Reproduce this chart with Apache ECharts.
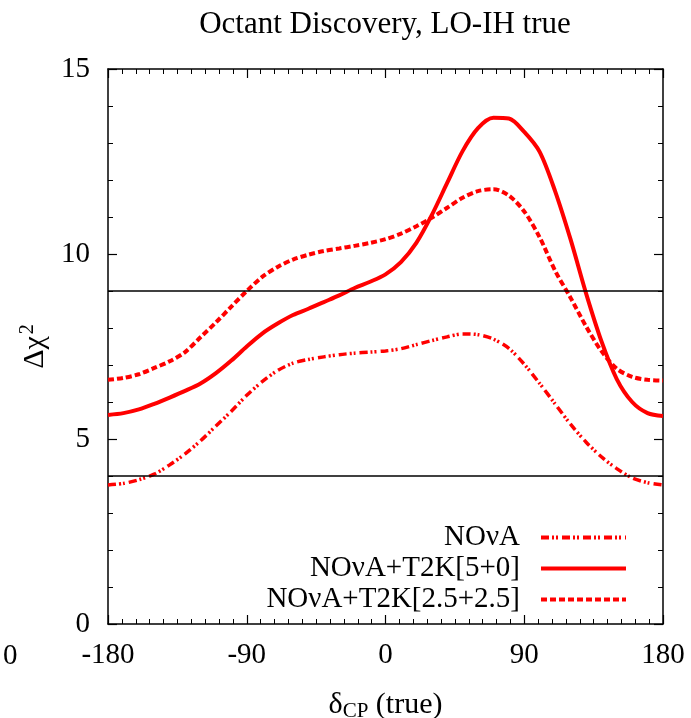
<!DOCTYPE html>
<html>
<head>
<meta charset="utf-8">
<script src="https://cdn.jsdelivr.net/npm/echarts@6/dist/echarts.min.js"></script>
<style>
  html, body { margin: 0; padding: 0; background: #fff; }
  #chart { width: 691px; height: 718px; }
</style>
</head>
<body>
<div id="chart"></div>
<script>
// delta_CP (true) sample points, degrees
const deltaCP = [-180, -170, -160, -150, -140, -130, -120, -110, -100, -90, -80, -70, -60, -50, -40, -30, -20, -10,
  0, 10, 20, 30, 40, 50, 60, 70, 80, 90, 100, 110, 120, 130, 140, 150, 160, 170, 180];

// Δχ² values
const nova = [3.76, 3.80, 3.90, 4.05, 4.30, 4.60, 4.95, 5.35, 5.75, 6.18, 6.55, 6.85, 7.05, 7.15, 7.22, 7.28, 7.32, 7.35,
  7.38, 7.44, 7.55, 7.66, 7.76, 7.84, 7.82, 7.70, 7.45, 7.02, 6.50, 5.95, 5.40, 4.92, 4.52, 4.20, 3.95, 3.82, 3.76];
const novaT2k50 = [5.65, 5.70, 5.80, 5.95, 6.12, 6.30, 6.50, 6.78, 7.12, 7.50, 7.85, 8.12, 8.35, 8.52, 8.70, 8.88, 9.08, 9.25,
  9.45, 9.78, 10.30, 11.05, 11.92, 12.78, 13.40, 13.68, 13.66, 13.30, 12.76, 11.70, 10.40, 8.95, 7.65, 6.62, 6.00, 5.70, 5.62];
const novaT2k2525 = [6.60, 6.65, 6.75, 6.92, 7.10, 7.35, 7.75, 8.15, 8.58, 9.00, 9.38, 9.65, 9.85, 9.98, 10.08, 10.15, 10.22, 10.30,
  10.40, 10.55, 10.75, 10.98, 11.25, 11.52, 11.70, 11.75, 11.58, 11.15, 10.45, 9.55, 8.82, 8.05, 7.38, 6.90, 6.68, 6.60, 6.58];

// horizontal reference levels
const levels = [9, 4];

const seriesNames = ['NOνA', 'NOνA+T2K[5+0]', 'NOνA+T2K[2.5+2.5]'];
const xTicks = [-180, 180, 90];   // min, max, interval
const yTicks = [0, 15, 5];

const serif = 'Liberation Serif';
const red = '#ff0000';

const pairs = (ys) => deltaCP.map((x, i) => [x, ys[i]]);

const chart = echarts.init(document.getElementById('chart'));

const tickStyle = { show: true, inside: true, length: 9, lineStyle: { color: '#000', width: 1.2 } };
const minorStyle = { show: true, length: 5, lineStyle: { color: '#000', width: 1 } };
const frameLine = { show: true, onZero: false, lineStyle: { color: '#000', width: 1.5 } };

const option = {
  animation: false,
  backgroundColor: '#fff',
  title: {
    text: 'Octant Discovery, LO-IH true',
    left: 380,
    textAlign: 'center',
    top: 4,
    textStyle: { fontFamily: serif, fontSize: 31, fontWeight: 'normal', color: '#000' }
  },
  grid: { left: 108, right: 28, top: 69, bottom: 94, outerBoundsMode: 'none' },
  legend: {
    orient: 'vertical',
    align: 'right',
    right: 63,
    bottom: 104,
    padding: 0,
    itemWidth: 85,
    itemHeight: 14,
    itemGap: 2,
    itemStyle: { opacity: 0 },
    lineStyle: { width: 4 },
    textStyle: { fontFamily: serif, fontSize: 29, color: '#000', padding: [0, 16, 0, 0] },
    data: seriesNames
  },
  xAxis: [
    {
      type: 'value',
      min: xTicks[0], max: xTicks[1], interval: xTicks[2],
      axisLine: frameLine,
      axisTick: tickStyle,
      minorTick: Object.assign({ splitNumber: 10 }, minorStyle),
      splitLine: { show: false },
      axisLabel: { margin: 17, fontFamily: serif, fontSize: 29, color: '#000' },
      name: '{d|δ}{s|CP}{d| (true)}',
      nameLocation: 'middle',
      nameGap: 65,
      nameTextStyle: {
        rich: {
          d: { fontFamily: serif, fontSize: 30, color: '#000' },
          s: { fontFamily: serif, fontSize: 21, color: '#000', verticalAlign: 'bottom', padding: [12, 0, 0, 0] }
        }
      }
    },
    {
      type: 'value', position: 'top',
      min: xTicks[0], max: xTicks[1], interval: xTicks[2],
      axisLine: frameLine,
      axisTick: tickStyle,
      minorTick: Object.assign({ splitNumber: 10 }, minorStyle),
      splitLine: { show: false },
      axisLabel: { show: false }
    }
  ],
  yAxis: [
    {
      type: 'value',
      min: yTicks[0], max: yTicks[1], interval: yTicks[2],
      axisLine: frameLine,
      axisTick: tickStyle,
      minorTick: Object.assign({ splitNumber: 5 }, minorStyle),
      splitLine: { show: false },
      axisLabel: { margin: 18, fontFamily: serif, fontSize: 29, color: '#000' },
      name: '{d|Δχ}{s|2}',
      nameLocation: 'middle',
      nameRotate: 90,
      nameGap: 47,
      nameTextStyle: {
        rich: {
          d: { fontFamily: serif, fontSize: 30, color: '#000' },
          s: { fontFamily: serif, fontSize: 20, color: '#000', verticalAlign: 'top', padding: [0, 0, 14, 2] }
        }
      }
    },
    {
      type: 'value', position: 'right',
      min: yTicks[0], max: yTicks[1], interval: yTicks[2],
      axisLine: frameLine,
      axisTick: tickStyle,
      minorTick: Object.assign({ splitNumber: 5 }, minorStyle),
      splitLine: { show: false },
      axisLabel: { show: false }
    }
  ],
  graphic: [
    // clipped tick label at the very left edge of the figure
    { type: 'text', left: 3, top: 642, style: { text: '0', fontFamily: serif, fontSize: 29, fill: '#000' } }
  ],
  series: [
    {
      name: seriesNames[0],
      type: 'line',
      smooth: 0.3,
      symbol: 'none',
      data: pairs(nova),
      lineStyle: { color: red, width: 3.5, type: [8, 3, 2, 2, 2, 4] },
      itemStyle: { color: red },
      z: 3
    },
    {
      name: seriesNames[1],
      type: 'line',
      smooth: 0.3,
      symbol: 'none',
      data: pairs(novaT2k50),
      lineStyle: { color: red, width: 4, type: 'solid' },
      itemStyle: { color: red },
      z: 3
    },
    {
      name: seriesNames[2],
      type: 'line',
      smooth: 0.3,
      symbol: 'none',
      data: pairs(novaT2k2525),
      lineStyle: { color: red, width: 4, type: [6, 3] },
      itemStyle: { color: red },
      z: 3,
      markLine: {
        silent: true,
        symbol: 'none',
        label: { show: false },
        lineStyle: { color: '#000', width: 1.5, type: 'solid' },
        data: levels.map(v => ({ yAxis: v }))
      }
    }
  ]
};

chart.setOption(option);
</script>
</body>
</html>
